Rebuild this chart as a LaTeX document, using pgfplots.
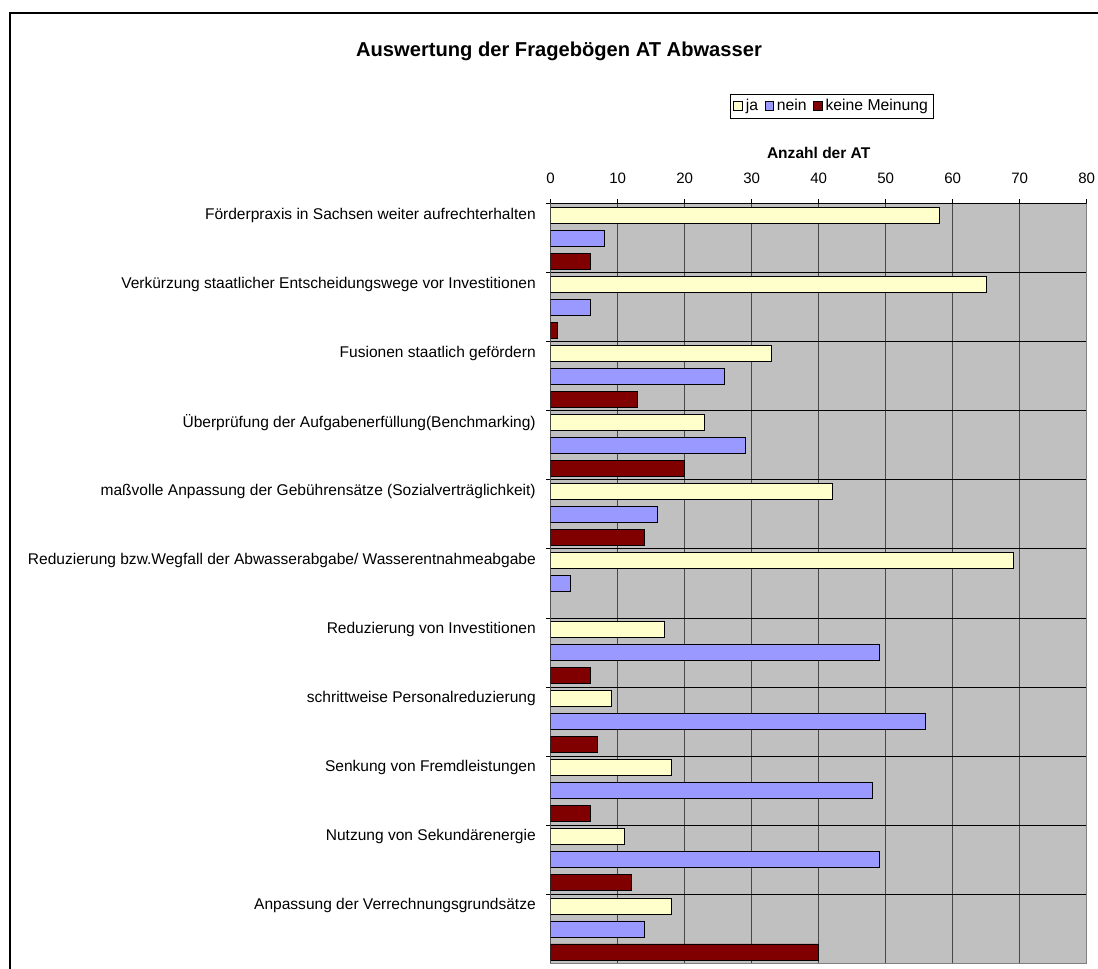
\documentclass[border=0pt]{standalone}
\usepackage{pgfplots}
\pgfplotsset{compat=1.18}
\usepackage{fontspec}
\setmainfont{Liberation Sans}

\definecolor{ja}{HTML}{FFFFCC}
\definecolor{nein}{HTML}{9999FF}
\definecolor{keine}{HTML}{800000}
\definecolor{plotgray}{HTML}{C0C0C0}
\definecolor{gridgray}{HTML}{484848}

\pgfplotsset{
  sq/.style={legend image code/.code={\draw[##1,line width=0.6pt] (0pt,-3.3pt) rectangle (6.6pt,3.3pt);}},
}

\begin{document}
\begin{tikzpicture}[x=0.75pt,y=-0.75pt]
% title
\node[anchor=base,font=\bfseries\fontsize{15.1}{17}\selectfont] at (559,56.7) {Auswertung der Fragebögen AT Abwasser};

\begin{axis}[
  at={(413pt,-152.6pt)}, anchor=north west,
  width=402pt, height=570pt, scale only axis,
  xbar, bar width=0.2315,
  xmin=0, xmax=80, ymin=-0.5, ymax=10.5, y dir=reverse,
  axis background/.style={fill=plotgray},
  axis line style={draw=gray, line width=0.9pt},
  font=\fontsize{11.65}{13}\selectfont,
  /pgf/number format/assume math mode=true,
  xtick={0,10,...,80}, xtick pos=upper, xticklabel pos=upper,
  xticklabel style={font=\fontsize{11.3}{12}\selectfont, yshift=8pt},
  tick align=outside, major tick length=3.2pt,
  tick style={black, line width=0.75pt},
  xmajorgrids, major x grid style={draw=gridgray, line width=1.1pt},
  ytick={-0.5,0.5,1.5,2.5,3.5,4.5,5.5,6.5,7.5,8.5,9.5},
  yticklabels={}, ytick pos=left,
  ymajorgrids, major y grid style={draw=black, line width=0.75pt},
  extra y ticks={-0.3333,0.6667,1.6667,2.6667,3.6667,4.6667,5.6667,6.6667,7.6667,8.6667,9.6667},
  extra y tick labels={
    Förderpraxis in Sachsen weiter aufrechterhalten,
    Verkürzung staatlicher Entscheidungswege vor Investitionen,
    Fusionen staatlich gefördern,
    Überprüfung der Aufgabenerfüllung(Benchmarking),
    maßvolle Anpassung der Gebührensätze (Sozialverträglichkeit),
    Reduzierung bzw.Wegfall der Abwasserabgabe/ Wasserentnahmeabgabe,
    Reduzierung von Investitionen,
    schrittweise Personalreduzierung,
    Senkung von Fremdleistungen,
    Nutzung von Sekundärenergie,
    Anpassung der Verrechnungsgrundsätze},
  extra y tick style={major tick length=0pt, ymajorgrids=false,
    yticklabel style={anchor=east, inner sep=0pt, xshift=-11pt}},
  xlabel={\bfseries Anzahl der AT},
  xlabel style={at={(axis description cs:0.5,1.066)}, anchor=center},
  legend style={at={(0.525,1.128)}, anchor=center, legend columns=3,
    draw=black, line width=0.75pt, inner sep=2pt,
    font=\fontsize{11.8}{13}\selectfont,
    /tikz/every even column/.append style={column sep=3pt}},
  legend cell align=left,
]
\addplot[sq, fill=ja, draw=black, line width=0.6pt, bar shift=-0.3333] coordinates {
  (58,0) (65,1) (33,2) (23,3) (42,4) (69,5) (17,6) (9,7) (18,8) (11,9) (18,10)};
\addplot[sq, fill=nein, draw=black, line width=0.6pt, bar shift=0] coordinates {
  (8,0) (6,1) (26,2) (29,3) (16,4) (3,5) (49,6) (56,7) (48,8) (49,9) (14,10)};
\addplot[sq, fill=keine, draw=black, line width=0.6pt, bar shift=0.3333] coordinates {
  (6,0) (1,1) (13,2) (20,3) (14,4) (6,6) (7,7) (6,8) (12,9) (40,10)};
\legend{ja, nein, keine Meinung}
% black left and top axis lines
\draw[black, line width=0.9pt] (axis description cs:0,0) -- (axis description cs:0,1) -- (axis description cs:1,1);
\end{axis}

% outer chart border
\draw[line width=1.1pt] (10,970) -- (10,13) -- (1100,13);
\pgfresetboundingbox
\useasboundingbox (0,0) rectangle (1098,968);
\end{tikzpicture}
\end{document}
